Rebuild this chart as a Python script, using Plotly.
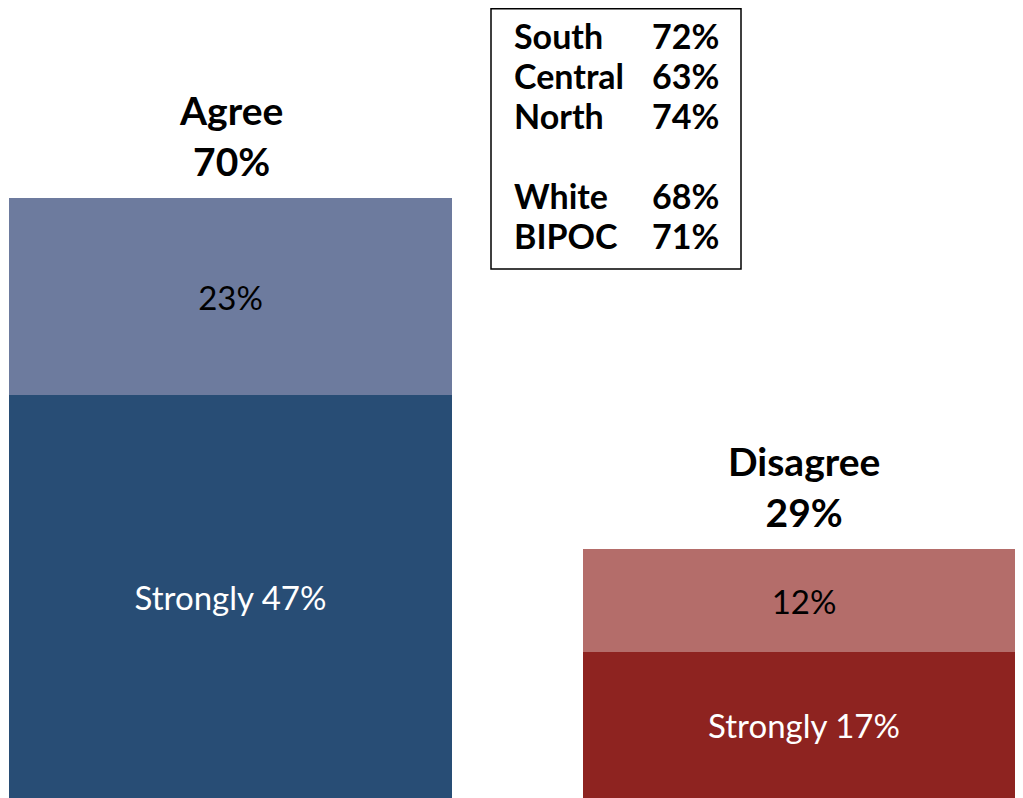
import plotly.graph_objects as go

# ---- data ----
categories = ["Agree", "Disagree"]
totals = [70, 29]
strongly = [47, 17]
somewhat = [23, 12]
strongly_labels = ["Strongly 47%", "Strongly 17%"]
somewhat_labels = ["23%", "12%"]
group_names = ["South", "Central", "North", "", "White", "BIPOC"]
group_values = ["72%", "63%", "74%", "", "68%", "71%"]

# ---- styles ----
W, H = 1023, 798
OFF = 8  # page body margin offset
FONT = "Lato"
dark_colors = ["#284D75", "#8E2320"]
light_colors = ["#6D7B9E", "#B46D6A"]
xpos = [0, 1]
PX_PER_UNIT = 8.571
X_UNIT = 573.5

fig = go.Figure()
fig.add_trace(go.Bar(
    x=xpos, y=strongly, width=0.772,
    marker=dict(color=dark_colors, line=dict(width=0)),
    text=strongly_labels, textposition="inside", insidetextanchor="middle",
    textangle=0, textfont=dict(family=FONT, size=33, color="white"),
    hoverinfo="skip",
))
fig.add_trace(go.Bar(
    x=xpos, y=somewhat, width=0.772,
    marker=dict(color=light_colors, line=dict(width=0)),
    text=somewhat_labels, textposition="inside", insidetextanchor="middle",
    textangle=0, textfont=dict(family=FONT, size=33, color="black"),
    hoverinfo="skip",
))

# headers above bars
for i, (c, t) in enumerate(zip(categories, totals)):
    fig.add_annotation(
        x=xpos[i], y=t, xref="x", yref="y", yanchor="bottom", yshift=12,
        text=f"<b>{c}<br>{t}%</b>", showarrow=False,
        font=dict(family=FONT, size=39, color="black"), align="center",
    )

# box with group results
fig.add_shape(type="rect", xref="paper", yref="paper",
              x0=(491 - OFF) / W, x1=(741 - OFF) / W,
              y0=1 - (269 - OFF) / H, y1=1 - 0.75 / H,
              line=dict(color="black", width=1.5), fillcolor="rgba(0,0,0,0)")
for i, (n, v) in enumerate(zip(group_names, group_values)):
    if not n:
        continue
    yc = 1 - (27 + 40 * i) / H
    fig.add_annotation(x=(512 - OFF) / W, y=yc, xref="paper", yref="paper",
                       xanchor="left", yanchor="middle", showarrow=False,
                       text=f"<b>{n}</b>", font=dict(family=FONT, size=34, color="black"))
    fig.add_annotation(x=(721 - OFF) / W, y=yc, xref="paper", yref="paper",
                       xanchor="right", yanchor="middle", showarrow=False,
                       text=f"<b>{v}</b>", font=dict(family=FONT, size=34, color="black"))

left = -(230.5 - OFF) / X_UNIT
right = 1 + (W - (804 - OFF)) / X_UNIT
fig.update_layout(
    barmode="stack", width=W, height=H,
    margin=dict(l=0, r=0, t=0, b=0),
    plot_bgcolor="white", paper_bgcolor="white",
    showlegend=False, bargap=0,
    xaxis=dict(range=[left, right], visible=False),
    yaxis=dict(range=[-OFF / PX_PER_UNIT, (H - OFF) / PX_PER_UNIT], visible=False),
)

fig.write_html("out.html")
